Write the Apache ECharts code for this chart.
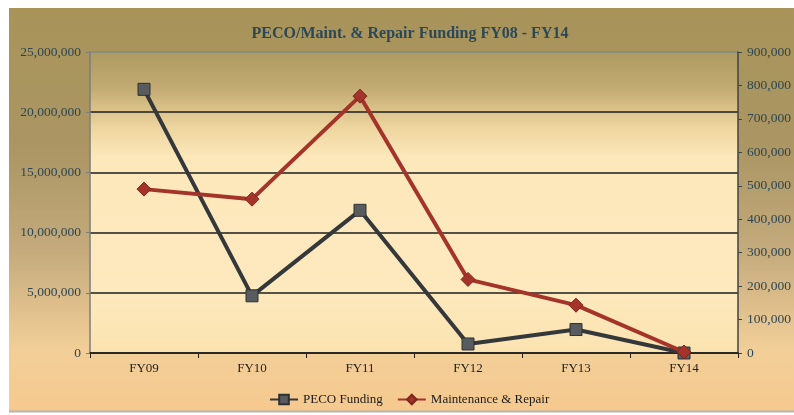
<!DOCTYPE html>
<html>
<head>
<meta charset="utf-8">
<script src="https://cdn.jsdelivr.net/npm/echarts@6/dist/echarts.min.js"></script>
<style>
  html, body { margin: 0; padding: 0; background: #ffffff; }
  #main { width: 794px; height: 415px; }
</style>
</head>
<body>
<div id="main"></div>
<script>
// data
var years = ['FY09', 'FY10', 'FY11', 'FY12', 'FY13', 'FY14'];
var pecoFunding = [21900000, 4750000, 11850000, 750000, 1950000, 0];
var maintRepair = [490000, 460000, 768000, 220000, 143000, 3000];
var leftTicks = { min: 0, max: 25000000, interval: 5000000 };
var rightTicks = { min: 0, max: 900000, interval: 100000 };

var serif = '"Liberation Serif", "DejaVu Serif", serif';
var labelColor = '#2d4652';

function fmt(v) {
  return String(v).replace(/\B(?=(\d{3})+(?!\d))/g, ',');
}

var myChart = echarts.init(document.getElementById('main'));
myChart.setOption({
  animation: false,
  backgroundColor: '#ffffff',
  graphic: [
    {
      type: 'rect',
      z: -10,
      silent: true,
      shape: { x: 9, y: 8, width: 785, height: 403 },
      style: {
        fill: new echarts.graphic.LinearGradient(0, 0, 0, 1, [
          { offset: 0, color: '#a89459' },
          { offset: 0.35, color: '#ab9664' },
          { offset: 0.6, color: '#c4aa7c' },
          { offset: 0.85, color: '#f2cf98' },
          { offset: 1, color: '#f6c98e' }
        ])
      }
    },
    {
      type: 'line',
      z: -9,
      silent: true,
      shape: { x1: 9, y1: 411.5, x2: 794, y2: 411.5 },
      style: { stroke: '#b8b4ae', lineWidth: 2 }
    }
  ],
  title: {
    text: 'PECO/Maint. & Repair Funding FY08 - FY14',
    left: 405,
    textAlign: 'center',
    top: 21,
    textStyle: { fontFamily: serif, fontSize: 16, fontWeight: 'bold', color: '#2c4858' }
  },
  legend: {
    bottom: 4,
    left: 264,
    itemWidth: 28,
    itemHeight: 12,
    itemGap: 14,
    textStyle: { fontFamily: serif, fontSize: 13, color: '#1a1a1a' },
    data: ['PECO Funding', 'Maintenance & Repair']
  },
  grid: {
    left: 90,
    right: 56,
    top: 52,
    bottom: 62,
    show: true,
    borderWidth: 0,
    backgroundColor: new echarts.graphic.LinearGradient(0, 0, 0, 1, [
      { offset: 0, color: '#ad9a62' },
      { offset: 0.12, color: '#c2ab72' },
      { offset: 0.25, color: '#eed59f' },
      { offset: 0.35, color: '#fce8bb' },
      { offset: 0.8, color: '#fde9bd' },
      { offset: 1, color: '#fbe3b0' }
    ])
  },
  xAxis: {
    type: 'category',
    data: years,
    boundaryGap: true,
    axisLine: { lineStyle: { color: '#1e1e1e', width: 1.5 } },
    axisTick: { show: true, length: 5, lineStyle: { color: '#1e1e1e' } },
    axisLabel: { fontFamily: serif, fontSize: 13, color: '#1e1e1e', margin: 9 }
  },
  yAxis: [
    {
      type: 'value',
      min: leftTicks.min,
      max: leftTicks.max,
      interval: leftTicks.interval,
      axisLine: { show: true, lineStyle: { color: '#7a7e80', width: 1.5 } },
      axisTick: { show: true, length: 4, lineStyle: { color: '#7a7e80' } },
      axisLabel: { fontFamily: serif, fontSize: 13.5, color: labelColor, margin: 9, formatter: fmt },
      splitLine: {
        show: true,
        lineStyle: { color: ['#1e1e1e', '#1e1e1e', '#1e1e1e', '#1e1e1e', '#1e1e1e', '#808a8a'], width: 1.5 }
      }
    },
    {
      type: 'value',
      position: 'right',
      min: rightTicks.min,
      max: rightTicks.max,
      interval: rightTicks.interval,
      axisLine: { show: true, lineStyle: { color: '#3c4448', width: 1.5 } },
      axisTick: { show: true, length: 4, lineStyle: { color: '#3c4448' } },
      axisLabel: { fontFamily: serif, fontSize: 13.5, color: labelColor, margin: 9, formatter: fmt },
      splitLine: { show: false }
    }
  ],
  series: [
    {
      name: 'PECO Funding',
      type: 'line',
      yAxisIndex: 0,
      data: pecoFunding,
      symbol: 'rect',
      symbolSize: 12,
      lineStyle: { color: '#34383b', width: 4 },
      itemStyle: { color: '#595c5e', borderColor: '#2e3133', borderWidth: 1 },
      z: 3
    },
    {
      name: 'Maintenance & Repair',
      type: 'line',
      yAxisIndex: 1,
      data: maintRepair,
      symbol: 'diamond',
      symbolSize: 14,
      lineStyle: { color: '#a4342a', width: 4 },
      itemStyle: { color: '#a4342a', borderColor: '#7c2620', borderWidth: 1 },
      z: 4
    }
  ]
});
</script>
</body>
</html>
